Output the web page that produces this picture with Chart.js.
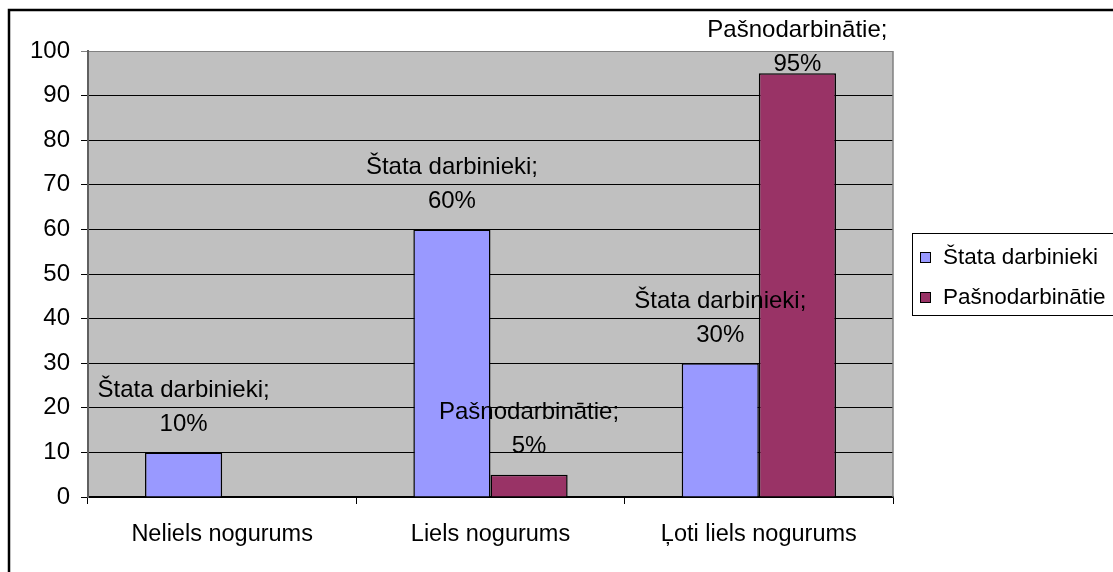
<!DOCTYPE html>
<html>
<head>
<meta charset="utf-8">
<script src="https://cdn.jsdelivr.net/npm/chart.js@4"></script>
<style>
  html, body { margin: 0; padding: 0; background: #ffffff; }
  #wrap { width: 1113px; height: 572px; position: relative; }
</style>
</head>
<body>
<div id="wrap"><canvas id="c" width="1113" height="572"></canvas></div>
<script>
const categories = ["Neliels nogurums", "Liels nogurums", "Ļoti liels nogurums"];
const seriesNames = ["Štata darbinieki", "Pašnodarbinātie"];
const stataValues = [10, 60, 30];
const pasnodValues = [null, 5, 95];
const seriesColors = ["#9999FF", "#993366"];
const yTicks = [0, 10, 20, 30, 40, 50, 60, 70, 80, 90, 100];

const FONT = "'Liberation Sans', Arial, sans-serif";

const framePlugin = {
  id: 'frame',
  beforeDraw(chart) {
    const ctx = chart.ctx, a = chart.chartArea;
    ctx.save();
    ctx.fillStyle = '#ffffff';
    ctx.fillRect(0, 0, chart.width, chart.height);
    ctx.fillStyle = '#C0C0C0';
    ctx.fillRect(a.left, a.top, a.right - a.left, a.bottom - a.top);
    ctx.restore();
  },
  afterDraw(chart) {
    const ctx = chart.ctx, a = chart.chartArea;
    ctx.save();
    ctx.strokeStyle = '#808080';
    ctx.lineWidth = 1.5;
    ctx.beginPath();
    ctx.moveTo(a.right, a.top);
    ctx.lineTo(a.right, a.bottom);
    ctx.stroke();
    ctx.strokeStyle = '#000000';
    ctx.lineWidth = 2.5;
    ctx.beginPath();
    ctx.moveTo(9, chart.height + 2);
    ctx.lineTo(9, 10);
    ctx.lineTo(chart.width + 2, 10);
    ctx.stroke();
    const lx = 912, ly = 233, lw = 220, lh = 82;
    ctx.lineWidth = 1;
    ctx.strokeStyle = '#000000';
    ctx.strokeRect(lx + 0.5, ly + 0.5, lw, lh);
    ctx.font = '22.5px ' + FONT;
    ctx.textAlign = 'left';
    ctx.textBaseline = 'middle';
    chart.data.datasets.forEach((ds, i) => {
      const cy = 257 + i * 40;
      ctx.fillStyle = ds.backgroundColor;
      ctx.fillRect(920, cy - 5, 10, 10);
      ctx.strokeStyle = '#000000';
      ctx.lineWidth = 1;
      ctx.strokeRect(920.5, cy - 4.5, 10, 10);
      ctx.fillStyle = '#000000';
      ctx.fillText(ds.label, 943, cy + 1);
    });
    ctx.restore();
  },
  afterDatasetsDraw(chart) {
    const ctx = chart.ctx;
    ctx.save();
    ctx.font = '24px ' + FONT;
    ctx.fillStyle = '#000000';
    ctx.textAlign = 'center';
    ctx.textBaseline = 'middle';
    chart.data.datasets.forEach((ds, di) => {
      const meta = chart.getDatasetMeta(di);
      meta.data.forEach((el, i) => {
        const v = ds.data[i];
        if (v === null || v === undefined) return;
        let y1 = el.y - 62;
        let y2 = el.y - 28;
        if (y1 < 30) { const d = 30 - y1; y1 += d; y2 += d; }
        ctx.fillText(ds.label + ';', el.x, y1);
        ctx.fillText(v + '%', el.x, y2);
      });
    });
    ctx.restore();
  }
};

new Chart(document.getElementById('c'), {
  type: 'bar',
  data: {
    labels: categories,
    datasets: [
      { label: seriesNames[0], data: stataValues, backgroundColor: seriesColors[0], borderColor: '#000000', borderWidth: 1.5 },
      { label: seriesNames[1], data: pasnodValues, backgroundColor: seriesColors[1], borderColor: '#000000', borderWidth: 1.5 }
    ]
  },
  options: {
    responsive: false,
    animation: false,
    layout: { padding: { left: 0, top: 51, right: 220, bottom: 0 } },
    plugins: { legend: { display: false }, tooltip: { enabled: false } },
    datasets: { bar: { barPercentage: 1, categoryPercentage: 0.575 } },
    scales: {
      x: {
        offset: true,
        grid: { offset: true, drawOnChartArea: false, drawTicks: true, tickLength: 7, color: '#000000', lineWidth: 1 },
        border: { display: true, color: '#000000', width: 1.5 },
        ticks: { color: '#000000', font: { family: FONT, size: 23.5 }, padding: 16, maxRotation: 0 },
        afterFit(s) { s.height = 75; }
      },
      y: {
        min: 0, max: 100,
        afterBuildTicks(s) { s.ticks = yTicks.map(v => ({ value: v })); },
        grid: {
          color: (c) => (c.tick && c.tick.value === 100) ? '#808080' : '#000000',
          lineWidth: 1, tickLength: 7, drawTicks: true
        },
        border: { display: true, color: '#606060', width: 2 },
        ticks: { color: '#000000', font: { family: FONT, size: 24 }, padding: 11 },
        afterFit(s) { s.width = 88; }
      }
    }
  },
  plugins: [framePlugin]
});
</script>
</body>
</html>
